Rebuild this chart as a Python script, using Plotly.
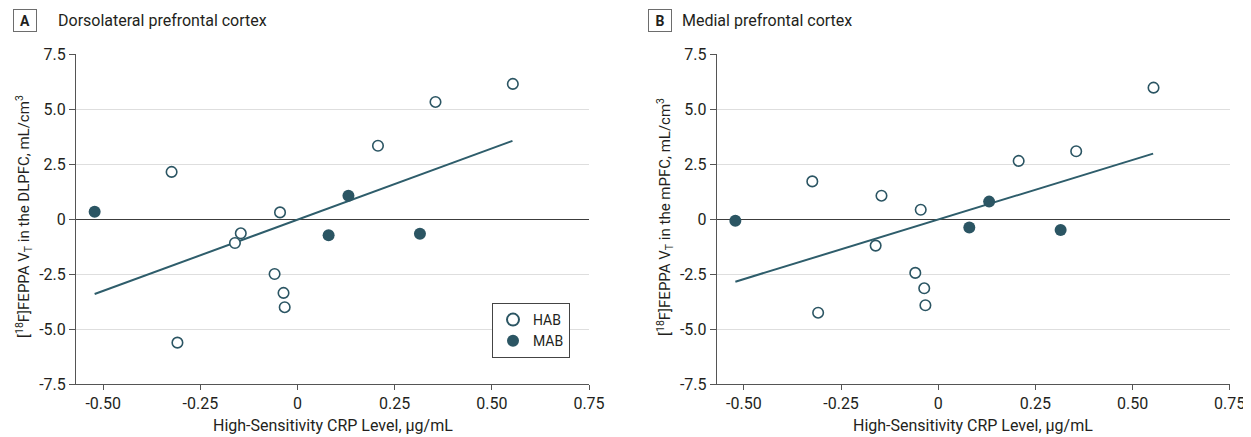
import plotly.graph_objects as go

# ---- data ----
hab_x = [-0.324, -0.309, -0.161, -0.146, -0.059, -0.045, -0.036, -0.033, 0.207, 0.355, 0.554]
hab_dlpfc = [2.14, -5.62, -1.09, -0.65, -2.50, 0.30, -3.36, -4.01, 3.33, 5.32, 6.14]
hab_mpfc = [1.71, -4.26, -1.21, 1.06, -2.45, 0.42, -3.15, -3.92, 2.64, 3.08, 5.97]

mab_x = [-0.522, 0.080, 0.131, 0.315]
mab_dlpfc = [0.33, -0.74, 1.06, -0.67]
mab_mpfc = [-0.08, -0.39, 0.79, -0.50]

fit_x = [-0.522, 0.553]
fit_dlpfc = [-3.41, 3.55]
fit_mpfc = [-2.85, 2.97]

x_tickvals = [-0.50, -0.25, 0, 0.25, 0.50, 0.75]
x_ticktext = ["-0.50", "-0.25", "0", "0.25", "0.50", "0.75"]
y_tickvals = [-7.5, -5.0, -2.5, 0, 2.5, 5.0, 7.5]
y_ticktext = ["-7.5", "-5.0", "-2.5", "0", "2.5", "5.0", "7.5"]

panel_titles = ["Dorsolateral prefrontal cortex", "Medial prefrontal cortex"]
panel_letters = ["A", "B"]
y_titles = ["[<sup>18</sup>F]FEPPA V<sub>T</sub> in the DLPFC, mL/cm<sup>3</sup>",
            "[<sup>18</sup>F]FEPPA V<sub>T</sub> in the mPFC, mL/cm<sup>3</sup>"]
x_title = "High-Sensitivity CRP Level, µg/mL"

# ---- page geometry: the page body has an 8px margin, so the figure is sized to fit ----
PAGE_W, PAGE_H = 1251, 437
OFF = 8
W, H = PAGE_W - OFF, PAGE_H - OFF


def xp(X):
    return (X - OFF) / W


def yp(Y):
    return 1 - (Y - OFF) / H


TEAL = "#2b5563"
LINE = "#2e5d6b"
FONT = "Roboto"
TXT = "#231f20"

fig = go.Figure()

panels = [(hab_dlpfc, mab_dlpfc, fit_dlpfc, "x", "y"),
          (hab_mpfc, mab_mpfc, fit_mpfc, "x2", "y2")]
for i, (hy, my, fy, xa, ya) in enumerate(panels):
    fig.add_trace(go.Scatter(x=fit_x, y=fy, mode="lines", xaxis=xa, yaxis=ya,
                             line=dict(color=LINE, width=2), showlegend=False,
                             hoverinfo="skip"))
    fig.add_trace(go.Scatter(x=hab_x, y=hy, mode="markers", name="HAB", xaxis=xa, yaxis=ya,
                             marker=dict(size=10.5, color="white",
                                         line=dict(color=TEAL, width=1.6)),
                             showlegend=(i == 0)))
    fig.add_trace(go.Scatter(x=mab_x, y=my, mode="markers", name="MAB", xaxis=xa, yaxis=ya,
                             marker=dict(size=12, color=TEAL, line=dict(width=0)),
                             showlegend=(i == 0)))

# plot-area pixel boxes (page pixels)
x_px = [(76, 589), (716.7, 1229.7)]
y_px = (54, 384)
ydom = [yp(y_px[1]), yp(y_px[0])]


def xaxis_cfg(dom, anchor):
    return dict(domain=dom, range=[-0.57, 0.75], anchor=anchor, automargin=False,
                tickvals=x_tickvals, ticktext=x_ticktext,
                showgrid=False, zeroline=False,
                showline=True, linecolor="#555555", linewidth=1,
                ticks="outside", ticklen=5, tickcolor="#555555",
                tickfont=dict(family=FONT, size=16, color=TXT))


def yaxis_cfg(anchor):
    return dict(domain=ydom, range=[-7.5, 7.5], anchor=anchor, automargin=False,
                tickvals=y_tickvals, ticktext=y_ticktext,
                showgrid=True, gridcolor="#dedede", gridwidth=1,
                zeroline=True, zerolinecolor="#3c3c3c", zerolinewidth=1,
                showline=True, linecolor="#555555", linewidth=1,
                ticks="outside", ticklen=6, tickcolor="#555555",
                tickfont=dict(family=FONT, size=16, color=TXT))


annotations = []
box_cx = [25, 659.5]
title_x = [56, 680]
ytitle_x = [24, 665]
for i in range(2):
    annotations.append(dict(text="<b>%s</b>" % panel_letters[i], xref="paper", yref="paper",
                            x=xp(box_cx[i]), y=yp(21), xanchor="center", yanchor="middle",
                            showarrow=False, bordercolor="#6d6d6d", borderwidth=1,
                            width=22, height=21, borderpad=0,
                            font=dict(family=FONT, size=14, color=TXT)))
    annotations.append(dict(text=panel_titles[i], xref="paper", yref="paper",
                            x=xp(title_x[i]), y=yp(21), xanchor="left", yanchor="middle",
                            showarrow=False, font=dict(family=FONT, size=16, color=TXT)))
    annotations.append(dict(text=y_titles[i], xref="paper", yref="paper",
                            x=xp(ytitle_x[i]), y=yp(217), xanchor="center", yanchor="middle",
                            textangle=-90, showarrow=False,
                            font=dict(family=FONT, size=15, color=TXT)))
    annotations.append(dict(text=x_title, xref="paper", yref="paper",
                            x=xp((x_px[i][0] + x_px[i][1]) / 2), y=yp(425),
                            xanchor="center", yanchor="middle", showarrow=False,
                            font=dict(family=FONT, size=16, color=TXT)))

fig.update_layout(
    width=W, height=H,
    margin=dict(l=0, r=0, t=0, b=0, pad=0, autoexpand=False),
    paper_bgcolor="white", plot_bgcolor="white",
    xaxis=xaxis_cfg([xp(x_px[0][0]), xp(x_px[0][1])], "y"),
    yaxis=yaxis_cfg("x"),
    xaxis2=xaxis_cfg([xp(x_px[1][0]), xp(x_px[1][1])], "y2"),
    yaxis2=yaxis_cfg("x2"),
    annotations=annotations,
    legend=dict(x=xp(492), y=yp(303), xanchor="left", yanchor="top",
                bordercolor="#444444", borderwidth=1, bgcolor="white",
                font=dict(family=FONT, size=14, color=TXT),
                itemsizing="constant", itemwidth=30, tracegroupgap=0),
    showlegend=True,
)

fig.write_html("out.html")
